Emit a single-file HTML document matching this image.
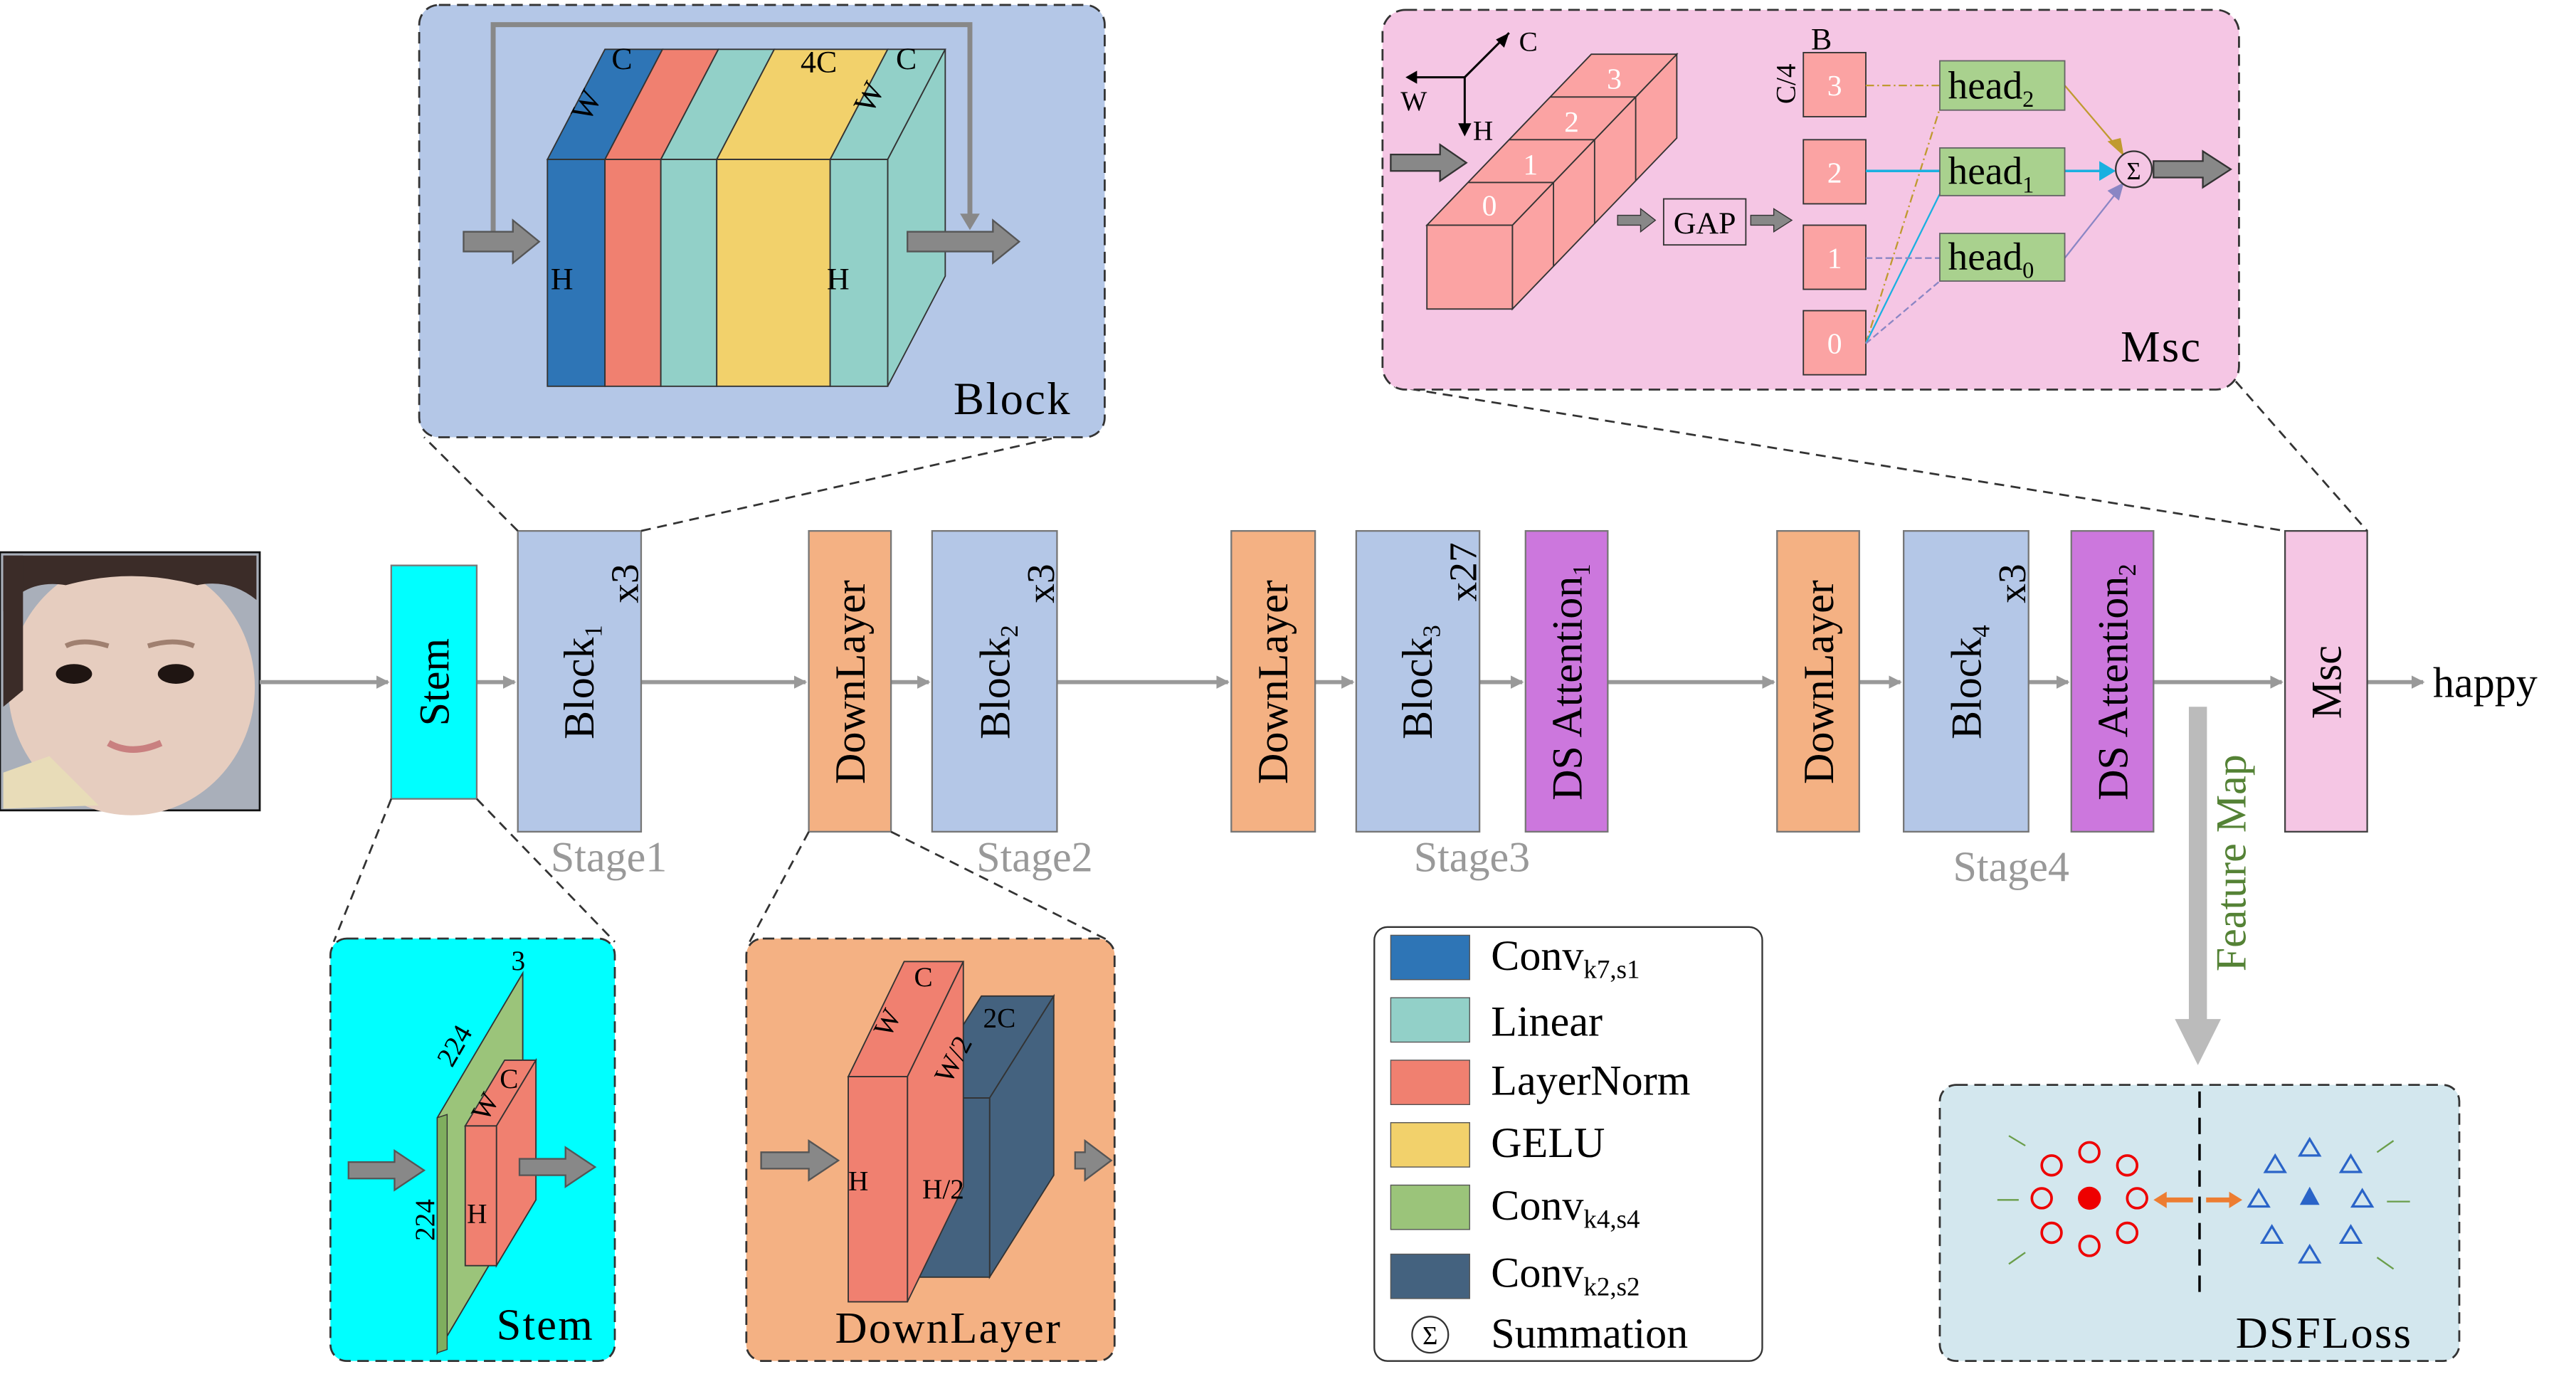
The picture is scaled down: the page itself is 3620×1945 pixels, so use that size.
<!DOCTYPE html>
<html><head><meta charset="utf-8"><style>
html,body{margin:0;padding:0;background:#fff}
svg{display:block}
text{font-family:"Liberation Serif",serif}
</style></head><body>
<svg width="3620" height="1945" viewBox="0 0 1567 842" preserveAspectRatio="none" xmlns="http://www.w3.org/2000/svg">
<defs>
<marker id="ah" markerWidth="8" markerHeight="8" refX="7" refY="4" orient="auto" markerUnits="userSpaceOnUse"><path d="M0,0 L8,4 L0,8 Z" fill="#999"/></marker>
</defs>

<!-- face photo -->
<g>
<rect x="0" y="336" width="158" height="157" fill="#a9afba" stroke="#111" stroke-width="1.2"/>
<ellipse cx="80" cy="418" rx="75" ry="78" fill="#e6cdbf"/>
<path d="M2,338 L156,338 L156,365 Q140,352 120,356 Q80,345 40,356 Q15,352 2,372 Z" fill="#3b2c28"/>
<path d="M2,338 L14,338 L14,420 L2,430 Z" fill="#3b2c28"/>
<ellipse cx="45" cy="410" rx="11" ry="6" fill="#1f1512"/>
<ellipse cx="107" cy="410" rx="11" ry="6" fill="#1f1512"/>
<path d="M40,393 Q50,388 66,393" stroke="#a08070" stroke-width="3" fill="none"/>
<path d="M90,393 Q106,388 118,393" stroke="#a08070" stroke-width="3" fill="none"/>
<path d="M66,452 Q80,460 98,452" stroke="#c98080" stroke-width="4" fill="none"/>
<path d="M2,470 L30,460 L60,490 L2,492 Z" fill="#e8dcb8"/>
</g>

<!-- main flow arrows -->
<g stroke="#999" stroke-width="2.5" fill="none">
<line x1="158" y1="415" x2="236" y2="415" marker-end="url(#ah)"/>
<line x1="290" y1="415" x2="313" y2="415" marker-end="url(#ah)"/>
<line x1="390" y1="415" x2="490" y2="415" marker-end="url(#ah)"/>
<line x1="542" y1="415" x2="565" y2="415" marker-end="url(#ah)"/>
<line x1="643" y1="415" x2="747" y2="415" marker-end="url(#ah)"/>
<line x1="800" y1="415" x2="823" y2="415" marker-end="url(#ah)"/>
<line x1="900" y1="415" x2="926" y2="415" marker-end="url(#ah)"/>
<line x1="978" y1="415" x2="1079" y2="415" marker-end="url(#ah)"/>
<line x1="1131" y1="415" x2="1156" y2="415" marker-end="url(#ah)"/>
<line x1="1234" y1="415" x2="1258" y2="415" marker-end="url(#ah)"/>
<line x1="1310" y1="415" x2="1388" y2="415" marker-end="url(#ah)"/>
<line x1="1440" y1="415" x2="1474" y2="415" marker-end="url(#ah)"/>
</g>
<text x="1480" y="424" font-size="26">happy</text>

<!-- main blocks -->
<g stroke="#777" stroke-width="1" font-size="26">
<g><rect x="238" y="344" width="52" height="142" fill="#00ffff"/><text transform="translate(273,415) rotate(-90)" text-anchor="middle" stroke="none">Stem</text></g>
<g><rect x="315" y="323" width="75" height="183" fill="#b4c7e7"/><text transform="translate(361,415) rotate(-90)" text-anchor="middle" stroke="none">Block<tspan font-size="15" dy="5">1</tspan></text><text transform="translate(388,355) rotate(-90)" text-anchor="middle" stroke="none" font-size="24">x3</text></g>
<g><rect x="492" y="323" width="50" height="183" fill="#f4b183"/><text transform="translate(526,415) rotate(-90)" text-anchor="middle" stroke="none">DownLayer</text></g>
<g><rect x="567" y="323" width="76" height="183" fill="#b4c7e7"/><text transform="translate(614,415) rotate(-90)" text-anchor="middle" stroke="none">Block<tspan font-size="15" dy="5">2</tspan></text><text transform="translate(641,355) rotate(-90)" text-anchor="middle" stroke="none" font-size="24">x3</text></g>
<g><rect x="749" y="323" width="51" height="183" fill="#f4b183"/><text transform="translate(783,415) rotate(-90)" text-anchor="middle" stroke="none">DownLayer</text></g>
<g><rect x="825" y="323" width="75" height="183" fill="#b4c7e7"/><text transform="translate(871,415) rotate(-90)" text-anchor="middle" stroke="none">Block<tspan font-size="15" dy="5">3</tspan></text><text transform="translate(898,348) rotate(-90)" text-anchor="middle" stroke="none" font-size="24">x27</text></g>
<g><rect x="928" y="323" width="50" height="183" fill="#cc77dd"/><text transform="translate(962,415) rotate(-90)" text-anchor="middle" stroke="none">DS Attention<tspan font-size="15" dy="5">1</tspan></text></g>
<g><rect x="1081" y="323" width="50" height="183" fill="#f4b183"/><text transform="translate(1115,415) rotate(-90)" text-anchor="middle" stroke="none">DownLayer</text></g>
<g><rect x="1158" y="323" width="76" height="183" fill="#b4c7e7"/><text transform="translate(1205,415) rotate(-90)" text-anchor="middle" stroke="none">Block<tspan font-size="15" dy="5">4</tspan></text><text transform="translate(1232,355) rotate(-90)" text-anchor="middle" stroke="none" font-size="24">x3</text></g>
<g><rect x="1260" y="323" width="50" height="183" fill="#cc77dd"/><text transform="translate(1294,415) rotate(-90)" text-anchor="middle" stroke="none">DS Attention<tspan font-size="15" dy="5">2</tspan></text></g>
<g><rect x="1390" y="323" width="50" height="183" fill="#f5c6e4" stroke="#444"/><text transform="translate(1424,415) rotate(-90)" text-anchor="middle" stroke="none">Msc</text></g>
</g>

<g fill="#999" font-size="26">
<text x="335" y="530">Stage1</text>
<text x="594" y="530">Stage2</text>
<text x="860" y="530">Stage3</text>
<text x="1188" y="536">Stage4</text>
</g>

<!-- feature map arrow -->
<g>
<line x1="1337" y1="430" x2="1337" y2="622" stroke="#bbb" stroke-width="11"/>
<path d="M1323,620 L1351,620 L1337,648 Z" fill="#bbb"/>
<text transform="translate(1366,525) rotate(-90)" text-anchor="middle" font-size="26" fill="#548235">Feature Map</text>
</g>

<!-- zoom dashed lines -->
<g stroke="#333" stroke-width="1.2" stroke-dasharray="6,4" fill="none">
<line x1="315" y1="323" x2="258" y2="266"/><line x1="390" y1="323" x2="670" y2="260"/>
<line x1="238" y1="486" x2="203" y2="573"/><line x1="290" y1="486" x2="374" y2="573"/>
<line x1="492" y1="506" x2="456" y2="573"/><line x1="542" y1="506" x2="676" y2="573"/>
<line x1="848" y1="235" x2="1390" y2="323"/><line x1="1360" y1="232" x2="1440" y2="323"/>
</g>

<!-- Block panel -->
<g>
<rect x="255" y="3" width="417" height="263" rx="12" fill="#b4c7e7" stroke="#333" stroke-width="1.2" stroke-dasharray="7,4"/>
<path d="M300,147 L300,15 L590,15 L590,132" stroke="#888" stroke-width="3" fill="none"/>
<path d="M584,130 L596,130 L590,140 Z" fill="#888"/>
<g stroke="#333" stroke-width="0.8">
<polygon points="333,97 368,30 403,30 368,97" fill="#2e75b6"/>
<polygon points="368,97 403,30 437,30 402,97" fill="#f08070"/>
<polygon points="402,97 437,30 471,30 436,97" fill="#92d0c8"/>
<polygon points="436,97 471,30 540,30 505,97" fill="#f2d16b"/>
<polygon points="505,97 540,30 575,30 540,97" fill="#92d0c8"/>
<polygon points="540,97 575,30 575,168 540,235" fill="#92d0c8"/>
<rect x="333" y="97" width="35" height="138" fill="#2e75b6"/>
<rect x="368" y="97" width="34" height="138" fill="#f08070"/>
<rect x="402" y="97" width="34" height="138" fill="#92d0c8"/>
<rect x="436" y="97" width="69" height="138" fill="#f2d16b"/>
<rect x="505" y="97" width="35" height="138" fill="#92d0c8"/>
</g>
<path d="M282,141 L312,141 L312,134 L328,147 L312,160 L312,153 L282,153 Z" fill="#888" stroke="#555"/>
<path d="M552,141 L604,141 L604,134 L620,147 L604,160 L604,153 L552,153 Z" fill="#888" stroke="#555"/>
<g font-size="19">
<text x="372" y="42">C</text><text x="487" y="44">4C</text><text x="545" y="42">C</text>
<text transform="translate(358,75) rotate(-62)">W</text><text transform="translate(530,70) rotate(-62)">W</text>
<text x="335" y="176">H</text><text x="503" y="176">H</text>
</g>
<text x="580" y="252" font-size="28" letter-spacing="1">Block</text>
</g>

<!-- Stem panel -->
<g>
<rect x="201" y="571" width="173" height="257" rx="10" fill="#00ffff" stroke="#333" stroke-width="1.2" stroke-dasharray="7,4"/>
<polygon points="266,680 318,592 318,735 266,823" fill="#9bc47a" stroke="#333" stroke-width="0.8"/>
<polygon points="266,680 272,678 272,821 266,823" fill="#7fae5e" stroke="#333" stroke-width="0.6"/>
<polygon points="283,685 307,645 326,645 302,685" fill="#f08070" stroke="#333" stroke-width="0.8"/>
<polygon points="302,685 326,645 326,730 302,770" fill="#f08070" stroke="#333" stroke-width="0.8"/>
<rect x="283" y="685" width="19" height="85" fill="#f08070" stroke="#333" stroke-width="0.8"/>
<path d="M212,707 L240,707 L240,700 L258,712 L240,724 L240,717 L212,717 Z" fill="#888" stroke="#555"/>
<path d="M316,705 L344,705 L344,698 L362,710 L344,722 L344,715 L316,715 Z" fill="#888" stroke="#555"/>
<g font-size="17">
<text x="311" y="590">3</text><text transform="translate(275,650) rotate(-60)">224</text>
<text transform="translate(264,755) rotate(-90)">224</text>
<text x="304" y="662">C</text><text transform="translate(296,683) rotate(-60)">W</text><text x="284" y="744">H</text>
</g>
<text x="302" y="815" font-size="27" letter-spacing="1">Stem</text>
</g>

<!-- DownLayer panel -->
<g>
<rect x="454" y="571" width="224" height="257" rx="10" fill="#f4b183" stroke="#333" stroke-width="1.2" stroke-dasharray="7,4"/>
<polygon points="558,668 597,606 641,606 602,668" fill="#44627f" stroke="#333" stroke-width="0.8"/>
<polygon points="602,668 641,606 641,715 602,777" fill="#44627f" stroke="#333" stroke-width="0.8"/>
<rect x="558" y="668" width="44" height="109" fill="#44627f" stroke="#333" stroke-width="0.8"/>
<polygon points="516,655 550,585 586,585 552,655" fill="#f08070" stroke="#333" stroke-width="0.8"/>
<polygon points="552,655 586,585 586,722 552,792" fill="#f08070" stroke="#333" stroke-width="0.8"/>
<rect x="516" y="655" width="36" height="137" fill="#f08070" stroke="#333" stroke-width="0.8"/>
<path d="M463,701 L492,701 L492,694 L510,706 L492,718 L492,711 L463,711 Z" fill="#888" stroke="#555"/>
<path d="M654,701 L660,701 L660,694 L676,706 L660,718 L660,711 L654,711 Z" fill="#888" stroke="#555"/>
<g font-size="17">
<text x="556" y="600">C</text><text transform="translate(541,632) rotate(-62)">W</text><text x="598" y="625">2C</text>
<text transform="translate(578,660) rotate(-62)">W/2</text><text x="516" y="724">H</text><text x="561" y="729">H/2</text>
</g>
<text x="508" y="817" font-size="27" letter-spacing="1">DownLayer</text>
</g>

<!-- Legend -->
<g font-size="26">
<rect x="836" y="564" width="236" height="264" rx="8" fill="#fff" stroke="#333" stroke-width="1"/>
<g><rect x="846" y="569" width="48" height="27" fill="#2e75b6" stroke="#555" stroke-width="0.6"/><text x="907" y="590">Conv<tspan font-size="16" dy="5">k7,s1</tspan></text></g>
<g><rect x="846" y="607" width="48" height="27" fill="#92d0c8" stroke="#555" stroke-width="0.6"/><text x="907" y="630">Linear</text></g>
<g><rect x="846" y="645" width="48" height="27" fill="#f08070" stroke="#555" stroke-width="0.6"/><text x="907" y="666">LayerNorm</text></g>
<g><rect x="846" y="683" width="48" height="27" fill="#f2d16b" stroke="#555" stroke-width="0.6"/><text x="907" y="704">GELU</text></g>
<g><rect x="846" y="721" width="48" height="27" fill="#9bc47a" stroke="#555" stroke-width="0.6"/><text x="907" y="742">Conv<tspan font-size="16" dy="5">k4,s4</tspan></text></g>
<g><rect x="846" y="763" width="48" height="27" fill="#44627f" stroke="#555" stroke-width="0.6"/><text x="907" y="783">Conv<tspan font-size="16" dy="5">k2,s2</tspan></text></g>
<g><circle cx="870" cy="812" r="11" fill="#fff" stroke="#333"/><text x="870" y="818" font-size="16" text-anchor="middle">Σ</text><text x="907" y="820">Summation</text></g>
</g>

<!-- Msc panel -->
<g>
<rect x="841" y="6" width="521" height="231" rx="14" fill="#f5c6e4" stroke="#333" stroke-width="1.2" stroke-dasharray="7,4"/>
<g stroke="#000" stroke-width="1.3" fill="none">
<line x1="891" y1="47" x2="918" y2="20"/><line x1="891" y1="47" x2="857" y2="47"/><line x1="891" y1="47" x2="891" y2="80"/>
</g>
<path d="M918,20 L910,24 L915,29 Z M855,47 L862,43 L862,51 Z M891,83 L887,75 L895,75 Z" fill="#000"/>
<g font-size="17"><text x="924" y="31">C</text><text x="852" y="67">W</text><text x="896" y="85">H</text></g>
<path d="M846,94 L876,94 L876,88 L892,99 L876,110 L876,104 L846,104 Z" fill="#888" stroke="#333"/>
<g stroke="#333" stroke-width="0.8" fill="#fba3a3">
<polygon points="920,137 1020,33 1020,84 920,188"/>
<polygon points="868,137 968,33 1020,33 920,137"/>
<rect x="868" y="137" width="52" height="51"/>
<line x1="893" y1="111" x2="945" y2="111"/><line x1="918" y1="85" x2="970" y2="85"/><line x1="943" y1="59" x2="995" y2="59"/>
<line x1="945" y1="111" x2="945" y2="162"/><line x1="970" y1="85" x2="970" y2="136"/><line x1="995" y1="59" x2="995" y2="110"/>
</g>
<g font-size="18" fill="#fff" text-anchor="middle"><text x="906" y="131">0</text><text x="931" y="106">1</text><text x="956" y="80">2</text><text x="982" y="54">3</text></g>
<path d="M984,131 L998,131 L998,127 L1007,134 L998,141 L998,137 L984,137 Z" fill="#888" stroke="#333" stroke-width="0.6"/>
<rect x="1012" y="121" width="50" height="28" fill="#f5c6e4" stroke="#333" stroke-width="0.8"/>
<text x="1037" y="142" font-size="19" text-anchor="middle">GAP</text>
<path d="M1065,131 L1079,131 L1079,127 L1090,134 L1079,141 L1079,137 L1065,137 Z" fill="#888" stroke="#333" stroke-width="0.6"/>
<text x="1108" y="30" font-size="19" text-anchor="middle">B</text>
<text transform="translate(1092,51) rotate(-90)" font-size="17" text-anchor="middle">C/4</text>
<g stroke="#333" stroke-width="0.8" fill="#fba3a3">
<rect x="1097" y="32" width="38" height="39"/><rect x="1097" y="85" width="38" height="39"/>
<rect x="1097" y="137" width="38" height="39"/><rect x="1097" y="189" width="38" height="39"/>
</g>
<g font-size="18" fill="#fff" text-anchor="middle"><text x="1116" y="58">3</text><text x="1116" y="111">2</text><text x="1116" y="163">1</text><text x="1116" y="215">0</text></g>
<g fill="none" stroke-width="1">
<line x1="1135" y1="52" x2="1180" y2="52" stroke="#c09a30" stroke-dasharray="5,2,1,2"/>
<line x1="1135" y1="209" x2="1180" y2="66" stroke="#c09a30" stroke-dasharray="5,2,1,2"/>
<line x1="1135" y1="104" x2="1180" y2="104" stroke="#1ab0e0" stroke-width="1.5"/>
<line x1="1135" y1="209" x2="1180" y2="118" stroke="#1ab0e0"/>
<line x1="1135" y1="157" x2="1180" y2="157" stroke="#8a86c4" stroke-dasharray="4,2"/>
<line x1="1135" y1="209" x2="1180" y2="171" stroke="#8a86c4" stroke-dasharray="4,2"/>
<line x1="1256" y1="52" x2="1290" y2="92" stroke="#c09a30"/>
<line x1="1256" y1="104" x2="1284" y2="104" stroke="#1ab0e0" stroke-width="1.5"/>
<line x1="1256" y1="157" x2="1290" y2="114" stroke="#8a86c4"/>
</g>
<path d="M1292,95 L1282,86 L1290,84 Z" fill="#c09a30"/>
<path d="M1287,104 L1277,98 L1277,110 Z" fill="#1ab0e0"/>
<path d="M1292,111 L1282,116 L1289,122 Z" fill="#8a86c4"/>
<g stroke="#666" stroke-width="0.8" fill="#a9d18e">
<rect x="1180" y="37" width="76" height="30"/><rect x="1180" y="90" width="76" height="29"/><rect x="1180" y="142" width="76" height="29"/>
</g>
<g font-size="24"><text x="1185" y="60">head<tspan font-size="14" dy="5">2</tspan></text><text x="1185" y="112">head<tspan font-size="14" dy="5">1</tspan></text><text x="1185" y="164">head<tspan font-size="14" dy="5">0</tspan></text></g>
<circle cx="1298" cy="103" r="11" fill="#f5c6e4" stroke="#333"/>
<text x="1298" y="109" font-size="15" text-anchor="middle">Σ</text>
<path d="M1310,98 L1340,98 L1340,92 L1357,103 L1340,114 L1340,108 L1310,108 Z" fill="#888" stroke="#333"/>
<text x="1290" y="220" font-size="27" letter-spacing="1">Msc</text>
</g>

<!-- DSFLoss panel -->
<g>
<rect x="1180" y="660" width="316" height="168" rx="10" fill="#d3e7ee" stroke="#333" stroke-width="1.2" stroke-dasharray="7,4"/>
<line x1="1338" y1="664" x2="1338" y2="790" stroke="#000" stroke-width="1.5" stroke-dasharray="10,6"/>
<g fill="none" stroke="#e00" stroke-width="1.6">
<circle cx="1271" cy="701" r="6"/><circle cx="1248" cy="709" r="6"/><circle cx="1294" cy="709" r="6"/>
<circle cx="1242" cy="729" r="6"/><circle cx="1300" cy="729" r="6"/>
<circle cx="1248" cy="750" r="6"/><circle cx="1294" cy="750" r="6"/><circle cx="1271" cy="758" r="6"/>
</g>
<circle cx="1271" cy="729" r="7" fill="#e00"/>
<g fill="none" stroke="#2a64c8" stroke-width="1.4">
<path d="M1405,693 l6,10 h-12 z"/><path d="M1384,703 l6,10 h-12 z"/><path d="M1430,703 l6,10 h-12 z"/>
<path d="M1374,724 l6,10 h-12 z"/><path d="M1437,724 l6,10 h-12 z"/>
<path d="M1382,746 l6,10 h-12 z"/><path d="M1430,746 l6,10 h-12 z"/><path d="M1405,758 l6,10 h-12 z"/>
</g>
<path d="M1405,722 l6,11 h-12 z" fill="#2a64c8"/>
<path d="M1314,730 L1334,730" stroke="#ed7d31" stroke-width="3"/><path d="M1310,730 l8,-5 v10 z" fill="#ed7d31"/>
<path d="M1342,730 L1360,730" stroke="#ed7d31" stroke-width="3"/><path d="M1364,730 l-8,-5 v10 z" fill="#ed7d31"/>
<g stroke="#6a9e4a" stroke-width="1"><line x1="1222" y1="691" x2="1232" y2="697"/><line x1="1215" y1="730" x2="1228" y2="730"/><line x1="1222" y1="769" x2="1232" y2="762"/>
<line x1="1456" y1="694" x2="1446" y2="701"/><line x1="1466" y1="731" x2="1452" y2="731"/><line x1="1456" y1="772" x2="1446" y2="765"/></g>
<text x="1360" y="820" font-size="27" letter-spacing="1">DSFLoss</text>
</g>
</svg>
</body></html>
